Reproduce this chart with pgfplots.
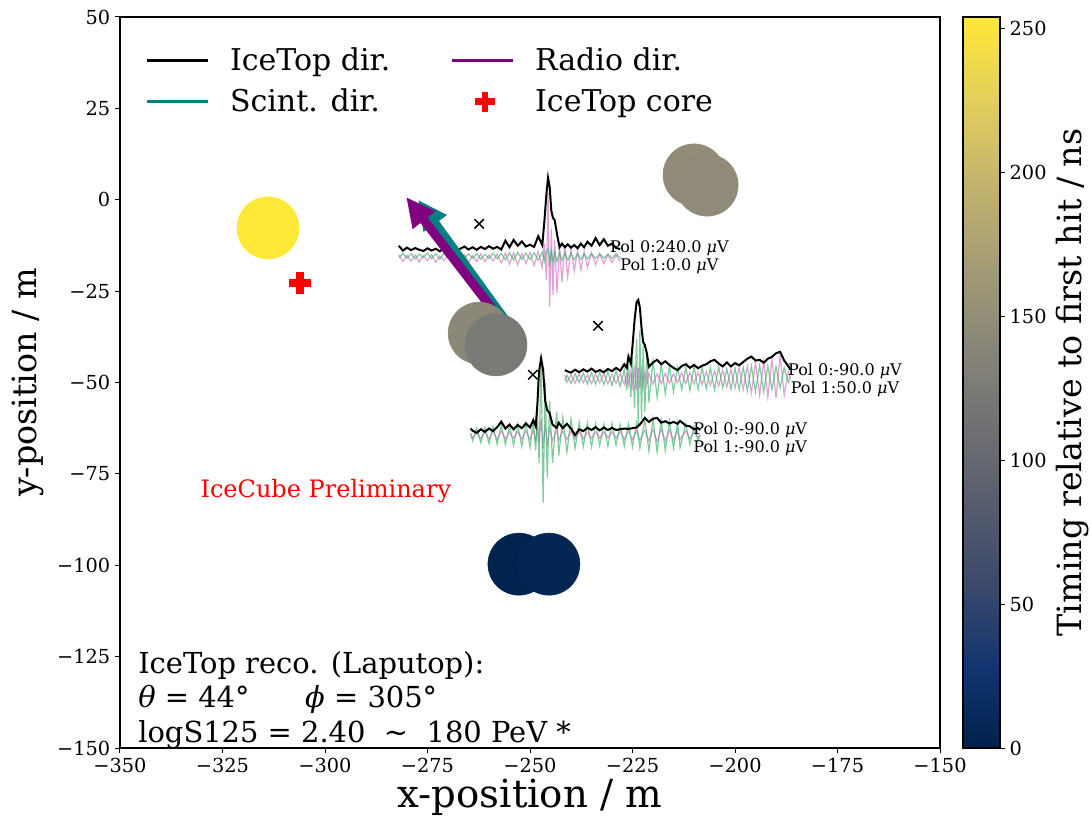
\documentclass[border=0pt]{standalone}
\usepackage{fontspec}
\setmainfont{DejaVu Serif}
\usepackage{pgfplots}
\pgfplotsset{compat=1.18}
\usepackage{pgfplotstable}
\usetikzlibrary{arrows.meta}

\definecolor{mplpurple}{RGB}{128,0,128}
\definecolor{mplteal}{RGB}{0,128,128}
\definecolor{wpink}{RGB}{205,110,195}
\definecolor{wgreen}{RGB}{60,175,105}

\newcommand\tickfont{\fontsize{14.5pt}{17pt}\selectfont}
\newcommand\xlabfont{\fontsize{29pt}{34pt}\selectfont}
\newcommand\ylabfont{\fontsize{25pt}{30pt}\selectfont}
\newcommand\legfont{\fontsize{22.5pt}{26pt}\selectfont}
\newcommand\boxfont{\fontsize{21.7pt}{26pt}\selectfont}
\newcommand\prelfont{\fontsize{18pt}{21pt}\selectfont}
\newcommand\polfont{\fontsize{12pt}{14pt}\selectfont}
\newcommand\cbfont{\fontsize{25pt}{30pt}\selectfont}

\pgfplotsset{
  colormap={cividis}{rgb255=(0,34,78) rgb255=(18,53,112) rgb255=(59,73,108) rgb255=(87,93,109) rgb255=(112,113,115) rgb255=(138,135,121) rgb255=(166,157,117) rgb255=(196,181,108) rgb255=(228,207,91) rgb255=(254,232,56)}
}

\pgfplotstableread{
x y t
-313.9 -7.7 254
-210.0 6.8 147
-206.8 4.0 146
-262.4 -36.5 142
-258.3 -39.7 123
-252.7 -99.7 2
-245.4 -99.7 6
}\stations

\pgfplotstableread{
x env p0 p1
-282 -12.6 -15.0 -15.9
-281 -13.9 -16.9 -14.7
-280 -13.1 -15.2 -16.0
-279 -13.8 -16.8 -14.8
-278 -13.2 -15.1 -16.2
-277 -13.7 -17.0 -14.9
-276 -14.0 -15.3 -15.8
-275 -13.3 -16.7 -14.6
-274 -13.9 -15.0 -16.1
-273 -13.4 -17.1 -14.8
-272 -14.1 -15.4 -16.3
-271 -13.3 -16.6 -14.7
-270 -13.8 -14.9 -16.0
-269 -13.1 -17.0 -14.9
-268 -13.9 -15.2 -16.2
-267 -13.4 -16.8 -14.6
-266 -12.8 -15.0 -16.1
-265 -13.6 -17.2 -14.8
-264 -13.0 -15.3 -16.0
-263 -13.7 -16.9 -14.7
-262 -12.9 -14.8 -16.3
-261 -13.5 -17.0 -14.9
-260 -12.7 -15.1 -16.1
-259 -13.4 -16.7 -14.6
-258 -12.9 -14.9 -16.2
-257 -13.6 -17.3 -14.7
-256 -11.2 -14.6 -16.4
-255 -13.0 -17.6 -14.5
-254 -11.0 -14.5 -16.5
-253 -12.6 -17.8 -14.4
-252 -11.4 -14.7 -16.3
-251 -12.8 -17.5 -14.6
-250 -12.3 -14.4 -16.4
-249 -12.9 -18.0 -14.5
-248 -10.0 -14.2 -16.6
-247 -12.4 -18.5 -14.3
-246.5 -6.0 -12.0 -16.8
-246 1.5 -22.0 -14.0
-245.6 6.0 1.8 -13.5
-245.2 3.5 -29.3 -17.5
-244.8 -3.0 -8.0 -14.0
-244.4 -5.0 -26.0 -17.0
-244 -5.5 -11.0 -14.2
-243.4 -9.5 -25.5 -16.8
-242.8 -13.0 -12.5 -14.4
-242.2 -12.0 -22.5 -16.6
-241.5 -13.0 -13.0 -14.5
-240.8 -12.2 -21.0 -16.5
-240 -13.1 -13.5 -14.6
-239.2 -12.4 -19.5 -16.4
-238.4 -13.3 -14.0 -14.7
-237.6 -12.0 -19.2 -16.3
-236.8 -13.0 -14.2 -14.8
-236 -11.5 -18.5 -16.2
-235 -12.6 -14.5 -14.7
-234 -10.5 -17.8 -16.1
-233 -12.4 -14.8 -14.8
-232 -10.8 -17.5 -16.0
-231 -12.6 -15.0 -14.9
-230 -12.0 -17.2 -16.0
-229 -13.2 -15.2 -14.8
-228 -13.5 -16.8 -15.9
}\waveA

\pgfplotstableread{
x env p0 p1
-241.5 -46.6 -48.0 -49.6
-241 -46.9 -50.0 -48.0
-240 -47.3 -47.8 -50.2
-239 -46.5 -50.2 -47.6
-238 -47.2 -47.6 -50.0
-237 -46.4 -50.1 -47.4
-236 -47.0 -47.9 -50.4
-235 -46.2 -50.3 -47.3
-234 -47.1 -47.7 -50.5
-233 -46.6 -50.0 -47.2
-232 -47.2 -47.5 -50.6
-231 -46.3 -50.4 -47.0
-230 -46.9 -47.8 -50.8
-229 -46.0 -50.2 -46.8
-228 -46.8 -47.6 -51.0
-227 -45.0 -50.5 -46.5
-226.4 -46.0 -47.4 -52.0
-226 -42.9 -50.6 -45.0
-225.4 -44.8 -47.0 -54.0
-225 -40.0 -51.0 -43.0
-224.5 -33.0 -46.5 -57.0
-224 -28.0 -52.0 -38.0
-223.6 -27.4 -46.0 -62.0
-223.2 -29.5 -51.5 -35.6
-222.8 -35.0 -46.8 -60.0
-222.4 -39.0 -51.0 -40.0
-222 -39.7 -47.2 -58.0
-221.5 -42.0 -50.5 -42.5
-221 -45.7 -47.5 -55.5
-220 -44.5 -50.4 -44.0
-219 -43.8 -47.6 -54.0
-218 -45.0 -50.3 -45.0
-217 -44.2 -47.5 -53.0
-216 -45.2 -50.2 -45.5
-215 -46.0 -47.6 -52.5
-214 -46.6 -50.0 -46.0
-213 -45.5 -47.4 -52.0
-212 -45.0 -50.3 -45.8
-211 -46.0 -47.3 -52.2
-210 -45.2 -50.4 -45.6
-209 -46.1 -47.2 -52.0
-208 -45.4 -50.6 -45.9
-207 -45.0 -47.0 -51.8
-206 -44.2 -50.8 -46.0
-205 -43.8 -46.8 -52.0
-204 -44.8 -51.0 -45.6
-203 -45.6 -46.6 -51.5
-202 -44.5 -51.2 -46.2
-201 -45.6 -46.4 -51.8
-200 -44.7 -51.5 -46.0
-199 -45.3 -46.0 -52.0
-198 -44.4 -52.0 -45.8
-197 -43.5 -45.5 -52.3
-196 -42.9 -52.8 -45.5
-195 -44.0 -44.5 -52.5
-194 -43.8 -53.5 -45.3
-193 -44.6 -44.0 -52.6
-192 -43.5 -54.0 -45.4
-191 -43.0 -43.5 -52.0
-190 -42.0 -54.2 -45.6
-189 -41.6 -42.5 -51.5
-188 -44.0 -53.5 -46.0
-187 -45.5 -47.0 -50.0
-186.5 -46.5 -49.0 -48.5
}\waveB

\pgfplotstableread{
x env p0 p1
-264.5 -62.6 -63.8 -64.0
-264 -63.2 -65.2 -66.0
-263 -63.8 -63.6 -62.5
-262 -62.8 -65.4 -66.5
-261 -63.5 -63.4 -62.3
-260 -62.6 -65.5 -66.7
-259 -63.3 -63.3 -62.0
-258 -62.2 -65.6 -66.9
-257 -60.7 -63.2 -61.5
-256 -62.6 -65.4 -67.0
-255 -61.5 -63.5 -61.8
-254 -62.8 -65.3 -67.2
-253 -61.6 -63.4 -61.5
-252 -62.5 -65.5 -67.5
-251 -61.2 -63.2 -61.0
-250 -62.3 -65.6 -67.8
-249.2 -60.3 -63.0 -60.5
-248.6 -62.0 -66.0 -68.5
-248.2 -56.0 -62.5 -58.0
-247.8 -47.0 -66.5 -72.0
-247.3 -43.4 -60.0 -43.8
-246.8 -46.5 -68.0 -83.0
-246.3 -55.0 -61.5 -50.0
-245.8 -57.5 -67.0 -76.0
-245.2 -58.5 -62.5 -55.0
-244.5 -61.5 -66.0 -72.0
-243.5 -62.4 -63.0 -58.0
-243 -61.0 -65.8 -70.0
-242 -62.5 -63.2 -59.5
-241 -61.3 -65.6 -69.0
-240 -62.6 -63.3 -60.0
-239 -64.4 -65.5 -68.0
-238 -62.8 -63.4 -60.8
-237 -63.3 -65.4 -67.5
-236 -62.4 -63.5 -61.0
-235 -63.0 -65.3 -67.6
-234 -62.2 -63.6 -61.2
-233 -63.1 -65.2 -67.3
-232 -62.3 -63.6 -61.4
-231 -63.0 -65.1 -67.5
-230 -62.4 -63.5 -61.2
-229 -63.0 -65.3 -67.2
-228 -62.8 -63.4 -61.5
-227 -62.6 -65.5 -67.4
-226 -62.7 -63.3 -61.3
-225 -62.5 -65.6 -67.6
-224 -62.3 -63.2 -61.0
-223.2 -61.5 -65.8 -68.0
-222 -59.7 -63.0 -60.0
-221 -60.8 -66.0 -68.8
-220 -59.9 -62.8 -59.8
-219 -59.7 -66.2 -69.0
-218 -61.0 -62.7 -60.2
-217 -60.6 -66.0 -68.6
-216 -61.2 -63.0 -60.5
-215 -60.8 -65.8 -68.0
-214 -61.3 -63.1 -61.0
-213.4 -60.5 -65.6 -67.8
-212 -61.8 -63.2 -61.3
-211 -62.0 -65.4 -67.0
-210 -62.8 -63.5 -62.0
-209 -62.5 -65.0 -66.0
-208.5 -63.0 -64.0 -64.5
}\waveC

\begin{document}
\begin{tikzpicture}
\begin{axis}[
  at={(0,0)}, anchor=south west,
  scale only axis, width=615pt, height=548.25pt,
  xmin=-350, xmax=-150, ymin=-150, ymax=50,
  xtick={-350,-325,-300,-275,-250,-225,-200,-175,-150},
  xticklabels={−350,−325,−300,−275,−250,−225,−200,−175,−150},
  ytick={-150,-125,-100,-75,-50,-25,0,25,50},
  yticklabels={−150,−125,−100,−75,−50,−25,0,25,50},
  tick align=outside, major tick length=3.75pt,
  xtick pos=bottom, ytick pos=left,
  tick style={black, line width=0.75pt},
  axis line style={line width=0.9pt},
  ticklabel style={font=\tickfont},
  xlabel={x-position / m}, ylabel={y-position / m},
  xlabel style={font=\xlabfont, at={(axis description cs:0.5,-0.068)}, anchor=center},
  ylabel style={font=\ylabfont, at={(axis description cs:-0.112,0.5)}, anchor=center},
  point meta min=0, point meta max=254,
  colormap name=cividis,
  colorbar,
  colorbar/width=27.75pt,
  colorbar style={
    scale only axis,
    width=27.75pt,
    at={(1.028,1)}, anchor=north west,
    ytick={0,50,100,150,200,250},
    yticklabels={0,50,100,150,200,250},
    yticklabel style={font=\tickfont},
    ytick pos=right, yticklabel pos=right,
    tick align=outside, major tick length=3.75pt,
    ylabel={Timing relative to first hit / ns},
    ylabel style={font=\cbfont, at={(axis description cs:2.95,0.5)}, anchor=center},
    axis line style={line width=0.9pt},
  },
  legend style={draw=none, fill=none, at={(axis description cs:0.0255,0.962)}, anchor=north west,
    font=\legfont, legend columns=2, row sep=12.5pt, nodes={inner sep=0pt},
    /tikz/every even column/.append style={column sep=45pt}},
  legend cell align=left,
  legend image code/.code={\draw[#1] (0pt,0pt) -- (46pt,0pt); \path[draw=none, fill=none] (0pt,0pt) -- (62.5pt,0pt);},
]
\addlegendimage{black, line width=2.25pt}
\addlegendentry{IceTop dir.}
\addlegendimage{mplpurple, line width=2.25pt}
\addlegendentry{Radio dir.}
\addlegendimage{mplteal, line width=2.25pt}
\addlegendentry{Scint. dir.}
\addlegendimage{legend image code/.code={\draw[red, line width=5pt, mark=+, mark size=7.5pt] plot coordinates {(25pt,0pt)}; \path[draw=none, fill=none] (0pt,0pt) -- (62.5pt,0pt);}}
\addlegendentry{IceTop core}

% stations
\addplot[forget plot, scatter, only marks, mark=*, mark size=23.25pt, scatter src=explicit,
  scatter/use mapped color={draw=mapped color, fill=mapped color}] table[x=x, y=y, meta=t] {\stations};

% waveforms
\addplot[forget plot, wpink, opacity=0.65, line width=0.9pt] table[x=x, y=p0] {\waveA};
\addplot[forget plot, wgreen, opacity=0.65, line width=0.9pt] table[x=x, y=p1] {\waveA};
\addplot[forget plot, black, line width=1.5pt] table[x=x, y=env] {\waveA};
\addplot[forget plot, wpink, opacity=0.65, line width=0.9pt] table[x=x, y=p0] {\waveB};
\addplot[forget plot, wgreen, opacity=0.65, line width=0.9pt] table[x=x, y=p1] {\waveB};
\addplot[forget plot, black, line width=1.5pt] table[x=x, y=env] {\waveB};
\addplot[forget plot, wpink, opacity=0.65, line width=0.9pt] table[x=x, y=p0] {\waveC};
\addplot[forget plot, wgreen, opacity=0.65, line width=0.9pt] table[x=x, y=p1] {\waveC};
\addplot[forget plot, black, line width=1.5pt] table[x=x, y=env] {\waveC};

% crosses
\addplot[forget plot, only marks, mark=x, mark size=5pt, line width=1.1pt, black]
  coordinates {(-262.4,-6.6) (-233.4,-34.5) (-249.3,-47.9)};

% direction arrows
\addplot[forget plot, mplteal, line width=6.75pt, -{Triangle[length=22pt,width=20pt]}]
  coordinates {(-256.0,-33.0) (-277.3,0.0)};
\addplot[forget plot, mplpurple, line width=6.75pt, -{Triangle[length=22pt,width=20pt]}]
  coordinates {(-256.6,-33.7) (-280.2,0.75)};

% core
\addplot[forget plot, only marks, mark=+, mark size=8pt, red, line width=5.5pt]
  coordinates {(-306.1,-22.8)};

% texts
\node[anchor=west, align=center, font=\polfont, inner sep=0pt] at (axis cs:-230.5,-15.7)
  {Pol 0:240.0 {\itshape μ}V\\Pol 1:0.0 {\itshape μ}V};
\node[anchor=west, align=center, font=\polfont, inner sep=0pt] at (axis cs:-187.1,-49.3)
  {Pol 0:-90.0 {\itshape μ}V\\Pol 1:50.0 {\itshape μ}V};
\node[anchor=west, align=center, font=\polfont, inner sep=0pt] at (axis cs:-210.2,-65.5)
  {Pol 0:-90.0 {\itshape μ}V\\Pol 1:-90.0 {\itshape μ}V};
\node[red, font=\prelfont] at (axis cs:-299.8,-79.7) {IceCube Preliminary};
\node[anchor=base west, font=\boxfont, inner sep=0pt] at (axis cs:-345.6,-129.5) {IceTop reco. (Laputop):};
\node[anchor=base west, font=\boxfont, inner sep=0pt] at (axis cs:-345.6,-139.05) {{\itshape θ} = 44°};
\node[anchor=base west, font=\boxfont, inner sep=0pt] at (axis cs:-304.9,-139.05) {{\itshape ϕ} = 305°};
\node[anchor=base west, font=\boxfont, inner sep=0pt] at (axis cs:-345.6,-148.6) {logS125 = 2.40 \ \textasciitilde\ \ 180 PeV *};
\end{axis}
\pgfresetboundingbox
\useasboundingbox (-90pt,-51.75pt) rectangle (728.25pt,561pt);
\end{tikzpicture}
\end{document}
